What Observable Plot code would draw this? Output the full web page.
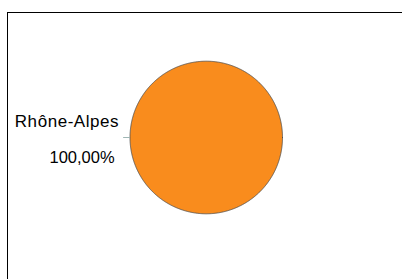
<!DOCTYPE html>
<html>
<head>
<meta charset="utf-8">
<script src="https://cdn.jsdelivr.net/npm/d3@7"></script>
<script src="https://cdn.jsdelivr.net/npm/@observablehq/plot@0.6"></script>
<style>
  html, body { margin: 0; padding: 0; background: #fff; }
  #wrap { position: relative; width: 402px; height: 279px; overflow: hidden; }
  #frame { position: absolute; left: 7px; top: 12px; right: -2px; bottom: -2px; border-top: 1px solid #000; border-left: 1px solid #000; pointer-events: none; }
</style>
</head>
<body>
<div id="wrap"><div id="frame"></div></div>
<script>
const categories = ["Rhône-Alpes"];
const values = [100];
const valueLabels = ["100,00%"];
const colors = ["#f98c1d"];

const arcs = d3.pie().sort(null).startAngle(Math.PI / 2).endAngle(Math.PI * 2.5)(values);

const slicePoints = [];
arcs.forEach((a, i) => {
  const span = a.endAngle - a.startAngle;
  const n = Math.max(2, Math.round(span / (Math.PI / 360)));
  const full = span >= 2 * Math.PI - 1e-9;
  if (!full) slicePoints.push({ cat: categories[i], x: 0, y: 0 });
  for (let k = 0; k <= n; k++) {
    const t = a.startAngle + span * k / n;
    slicePoints.push({ cat: categories[i], x: Math.sin(t), y: Math.cos(t) });
  }
});

const anchors = arcs.map((a, i) => {
  const m = (a.startAngle + a.endAngle) / 2;
  return {
    cat: categories[i], label: valueLabels[i],
    x0: Math.sin(m), y0: Math.cos(m),
    x1: Math.sin(m) * 1.09, y1: Math.cos(m) * 1.09
  };
});

const chart = Plot.plot({
  width: 402,
  height: 279,
  x: { domain: [-1, 1], range: [129.5, 282], axis: null },
  y: { domain: [-1, 1], range: [213.3, 60.7], axis: null },
  color: { domain: categories, range: colors },
  style: { fontFamily: "'Liberation Sans', Arial, sans-serif", background: "transparent", overflow: "visible" },
  marks: [
    Plot.line(slicePoints, { x: "x", y: "y", z: "cat", fill: "cat", stroke: "#4a4a4a", strokeWidth: 0.8, curve: "linear-closed" }),
    Plot.link(anchors, { x1: "x0", y1: "y0", x2: "x1", y2: "y1", stroke: "#9fb6b4", strokeWidth: 1 }),
    Plot.text(anchors, { x: "x1", y: "y1", text: "cat", textAnchor: "end", lineAnchor: "middle", dx: -4, dy: -16, fontSize: 17, fill: "#000", className: "lbl-cat" }),
    Plot.text(anchors, { x: "x1", y: "y1", text: "label", textAnchor: "end", lineAnchor: "middle", dx: -8.5, dy: 20, fontSize: 16.5, fill: "#000" })
  ]
});
d3.select(chart).selectAll("g.lbl-cat text").attr("letter-spacing", "0.55px");
chart.style.position = "absolute";
chart.style.left = "0";
chart.style.top = "0";
document.getElementById("wrap").insertBefore(chart, document.getElementById("frame"));
</script>
</body>
</html>
